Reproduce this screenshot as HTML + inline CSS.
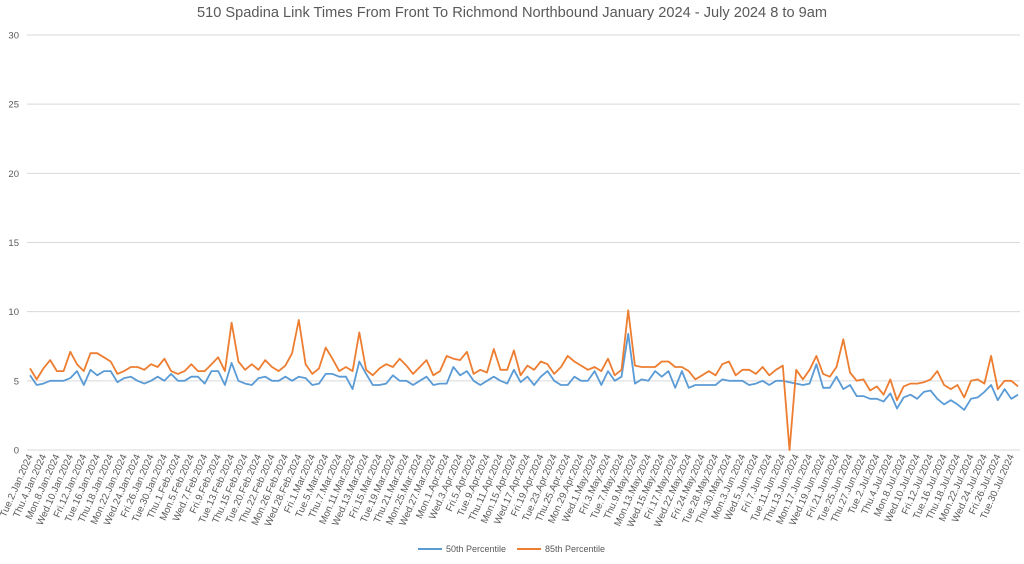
<!DOCTYPE html>
<html><head><meta charset="utf-8"><style>
body{margin:0;background:#fff;width:1024px;height:559px;overflow:hidden;font-family:"Liberation Sans",sans-serif}
</style></head><body>
<svg id="chart" width="1024" height="559" xmlns="http://www.w3.org/2000/svg">
<text x="512" y="17" text-anchor="middle" font-size="14.6" fill="#595959">510 Spadina Link Times From Front To Richmond Northbound January 2024 - July 2024 8 to 9am</text>
<g id="grid"></g><g id="ylab"></g><g id="xlab"></g><g id="series"></g>
<g>
<line x1="418" y1="549" x2="442" y2="549" stroke="#5b9bd5" stroke-width="2"/>
<text x="446" y="552" font-size="9" fill="#595959">50th Percentile</text>
<line x1="517" y1="549" x2="541" y2="549" stroke="#ed7d31" stroke-width="2"/>
<text x="545" y="552" font-size="9" fill="#595959">85th Percentile</text>
</g>
</svg>
<script>
const yTicks=[0,5,10,15,20,25,30];
const holidays=["2024-02-19","2024-03-29","2024-05-20","2024-07-01"];
const p50=[5.4,4.7,4.8,5.0,5.0,5.0,5.2,5.7,4.7,5.8,5.4,5.7,5.7,4.9,5.2,5.3,5.0,4.8,5.0,5.3,5.0,5.5,5.0,5.0,5.3,5.3,4.8,5.7,5.7,4.7,6.3,5.0,4.8,4.7,5.2,5.3,5.0,5.0,5.3,5.0,5.3,5.2,4.7,4.8,5.5,5.5,5.3,5.3,4.4,6.4,
5.5,4.7,4.7,4.8,5.4,5.0,5.0,4.7,5.0,5.3,4.7,4.8,4.8,6.0,5.4,5.7,5.0,4.7,5.0,5.3,5.0,4.8,5.8,4.9,5.3,4.7,5.3,5.7,5.0,4.7,4.7,5.3,5.0,5.0,5.7,4.7,5.7,5.0,5.3,8.4,4.8,5.1,5.0,5.7,5.3,5.7,4.5,5.7,4.5,
4.7,4.7,4.7,4.7,5.1,5.0,5.0,5.0,4.7,4.8,5.0,4.7,5.0,5.0,4.9,4.8,4.7,4.8,6.2,4.5,4.5,5.3,4.4,4.7,3.9,3.9,3.7,3.7,3.5,4.1,3.0,3.8,4.0,3.7,4.2,4.3,3.7,3.3,3.6,3.3,2.9,3.7,3.8,4.2,4.7,3.6,4.4,3.7,4.0];
const p85=[5.9,5.1,5.9,6.5,5.7,5.7,7.1,6.2,5.7,7.0,7.0,6.7,6.4,5.5,5.7,6.0,6.0,5.8,6.2,6.0,6.6,5.7,5.5,5.7,6.2,5.7,5.7,6.2,6.7,5.7,9.2,6.4,5.8,6.2,5.8,6.5,6.0,5.7,6.1,7.0,9.4,6.2,5.5,5.9,7.4,6.6,5.7,6.0,5.7,8.5,
5.8,5.4,5.9,6.2,6.0,6.6,6.1,5.5,6.0,6.5,5.4,5.7,6.8,6.6,6.5,7.1,5.5,5.8,5.6,7.3,5.8,5.8,7.2,5.4,6.1,5.8,6.4,6.2,5.5,6.0,6.8,6.4,6.1,5.8,6.0,5.7,6.6,5.4,5.8,10.1,6.1,6.0,6.0,6.0,6.4,6.4,6.0,6.0,5.7,
5.1,5.4,5.7,5.4,6.2,6.4,5.4,5.8,5.8,5.5,6.0,5.4,5.8,6.1,0,5.8,5.1,5.8,6.8,5.5,5.3,6.0,8.0,5.6,5.0,5.1,4.3,4.6,4.0,5.1,3.6,4.6,4.8,4.8,4.9,5.1,5.7,4.7,4.4,4.7,3.8,5.0,5.1,4.8,6.8,4.4,5.0,5.0,4.6];
const dayNames=["Sun","Mon","Tue","Wed","Thu","Fri","Sat"];
const monNames=["Jan","Feb","Mar","Apr","May","Jun","Jul"];
const categories=[];
for(let d=new Date(Date.UTC(2024,0,2));d<=new Date(Date.UTC(2024,6,31));d.setUTCDate(d.getUTCDate()+1)){
  const wd=d.getUTCDay(); if(wd===0||wd===6)continue;
  if(holidays.includes(d.toISOString().slice(0,10)))continue;
  categories.push(dayNames[wd]+"."+d.getUTCDate()+"."+monNames[d.getUTCMonth()]+".2024");
}
const NS="http://www.w3.org/2000/svg";
const X0=30,X1=1018,Y0=450,Y1=35,YMAX=30;
const n=p50.length;
const xs=i=>X0+(X1-X0)*i/(n-1);
const ys=v=>Y0-(Y0-Y1)*v/YMAX;
function mk(tag,attrs,parent){const e=document.createElementNS(NS,tag);for(const k in attrs)e.setAttribute(k,attrs[k]);parent.appendChild(e);return e;}
const grid=document.getElementById('grid'),ylab=document.getElementById('ylab'),xlab=document.getElementById('xlab'),ser=document.getElementById('series');
yTicks.forEach(t=>{
  const l=mk('line',{x1:27,x2:1020,y1:ys(t),y2:ys(t),stroke:'#d9d9d9','stroke-width':1},grid);
  
  
  const tx=mk('text',{x:19,y:ys(t)+3.5,'text-anchor':'end','font-size':9.5,fill:'#595959'},ylab);
  tx.textContent=t;
  
  
});
categories.forEach((c,i)=>{
  if(i%2)return;
  const x=xs(i)+3,y=456;
  const tx=mk('text',{x:x,y:y,'text-anchor':'end','font-size':9.8,fill:'#595959',transform:`rotate(-66 ${x} ${y})`},xlab);
  tx.textContent=c;
  
  
});
function line(vals,color,name){
  const p=mk('polyline',{points:vals.map((v,i)=>xs(i).toFixed(1)+","+ys(v).toFixed(1)).join(" "),fill:'none',stroke:color,'stroke-width':1.8,'stroke-linejoin':'round'},ser);
  
  
}
line(p50,'#5b9bd5','series-50th-percentile');
line(p85,'#ed7d31','series-85th-percentile');
</script>
</body></html>
